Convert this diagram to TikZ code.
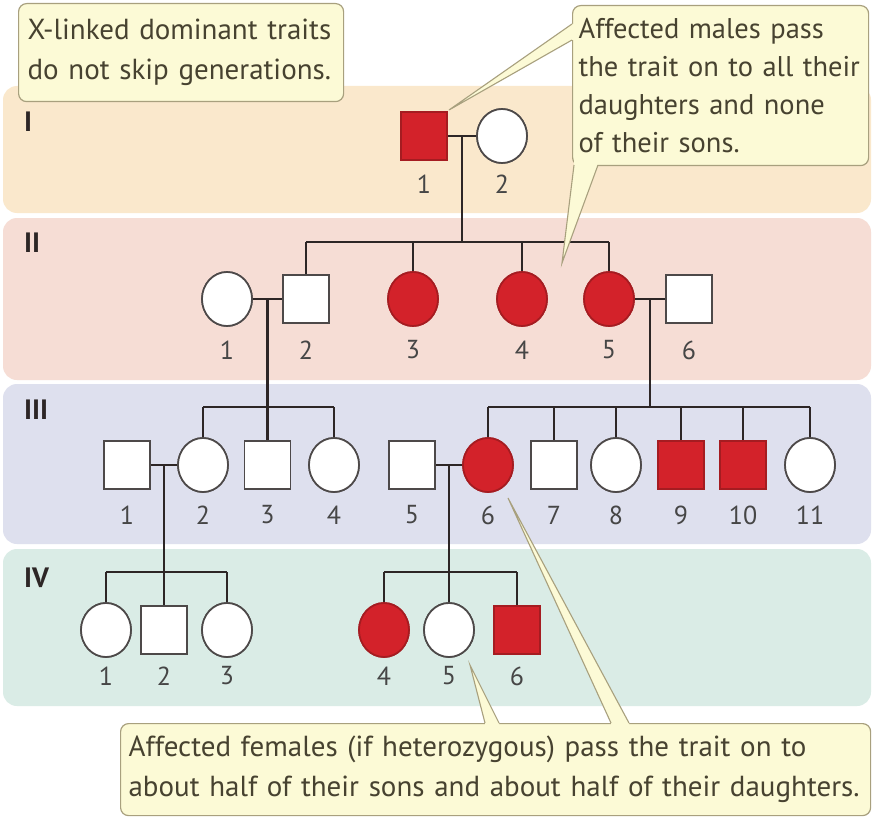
\documentclass[tikz,border=0pt]{standalone}
\usepackage{fontspec}
\setmainfont{PT Sans}
\usetikzlibrary{shapes.geometric}

\definecolor{bandI}{HTML}{FAE8CC}
\definecolor{bandII}{HTML}{F6DDD5}
\definecolor{bandIII}{HTML}{DEE0EE}
\definecolor{bandIV}{HTML}{DAECE6}
\definecolor{callfill}{HTML}{FCFAD6}
\definecolor{calledge}{HTML}{A8A07E}
\definecolor{calltext}{HTML}{474230}
\definecolor{affred}{HTML}{D3222A}
\definecolor{affedge}{HTML}{A51C21}
\definecolor{symline}{HTML}{4D4949}
\definecolor{linecol}{HTML}{2D2626}
\definecolor{numgray}{HTML}{464646}

\tikzset{
  band/.style={rounded corners=14pt},
  male/.style={rectangle, draw=symline, line width=1.7pt, fill=white,
    minimum width=46pt, minimum height=48pt, inner sep=0pt},
  female/.style={ellipse, draw=symline, line width=1.7pt, fill=white,
    minimum width=50pt, minimum height=54pt, inner sep=0pt},
  aff/.style={fill=affred, draw=affedge},
  link/.style={draw=linecol, line width=2.8pt},
  num/.style={font=\fontsize{26}{30}\selectfont, text=numgray, inner sep=0pt},
  gen/.style={font=\bfseries\fontsize{28}{30}\selectfont, text=linecol, anchor=west, inner sep=0pt},
  callout/.style={draw=calledge, line width=1.2pt, fill=callfill, rounded corners=8pt,
    text=calltext, font=\fontsize{29}{40}\selectfont, align=left, inner xsep=10pt,
    anchor=north west},
  wedgeline/.style={draw=calledge, line width=1.1pt},
}

\begin{document}
\begin{tikzpicture}[x=1pt,y=-1pt]
\useasboundingbox (0,0) rectangle (874,821);
\fill[white] (0,0) rectangle (874,821);

% generation bands
\fill[band, bandI]   (3,86)  rectangle (871,213);
\fill[band, bandII]  (3,218) rectangle (871,380);
\fill[band, bandIII] (3,384) rectangle (871,544);
\fill[band, bandIV]  (3,549) rectangle (871,706);

\node[gen] (gI)   at (24,122) {I};
\node[gen] (gII)  at (24,243) {II};
\node[gen] (gIII) at (24,410) {III};
\node[gen] (gIV)  at (24,578) {IV};

% generation I
\node[male, aff] (I1) at (424,136) {};
\node[female]    (I2) at (502,136) {};

% generation II
\node[female]      (II1) at (227,299) {};
\node[male]        (II2) at (306,299) {};
\node[female, aff] (II3) at (413,299) {};
\node[female, aff] (II4) at (522,299) {};
\node[female, aff] (II5) at (609,299) {};
\node[male]        (II6) at (689,299) {};

% generation III
\node[male]        (III1)  at (127,465) {};
\node[female]      (III2)  at (203,465) {};
\node[male]        (III3)  at (267.5,465) {};
\node[female]      (III4)  at (334,465) {};
\node[male]        (III5)  at (412,465) {};
\node[female, aff] (III6)  at (488,465) {};
\node[male]        (III7)  at (554,465) {};
\node[female]      (III8)  at (616,465) {};
\node[male, aff]   (III9)  at (681,465) {};
\node[male, aff]   (III10) at (743,465) {};
\node[female]      (III11) at (810,465) {};

% generation IV
\node[female]      (IV1) at (106,630) {};
\node[male]        (IV2) at (164,630) {};
\node[female]      (IV3) at (227,630) {};
\node[female, aff] (IV4) at (384,630) {};
\node[female]      (IV5) at (449,630) {};
\node[male, aff]   (IV6) at (517,630) {};

% mating points and sibship bars
\coordinate (mI)    at (462,136);
\coordinate (sI)    at (462,242);
\coordinate (mIIa)  at (267.5,299);
\coordinate (sIIa)  at (267.5,407);
\coordinate (mIIb)  at (650,299);
\coordinate (sIIb)  at (650,407);
\coordinate (mIIIa) at (164,465);
\coordinate (sIIIa) at (164,572);
\coordinate (mIIIb) at (449,465);
\coordinate (sIIIb) at (449,572);

% I1 x I2
\draw[link] (I1.east) -- (I2.west);
\draw[link] (mI) -- (sI);
\draw[link] (II2 |- sI) -- (II5 |- sI);
\foreach \c in {II2,II3,II4,II5} \draw[link] (\c |- sI) -- (\c.north);
% II1 x II2
\draw[link] (II1.east) -- (II2.west);
\draw[link] (mIIa) -- (III3.north);
\draw[link] (III2 |- sIIa) -- (III4 |- sIIa);
\foreach \c in {III2,III4} \draw[link] (\c |- sIIa) -- (\c.north);
% II5 x II6
\draw[link] (II5.east) -- (II6.west);
\draw[link] (mIIb) -- (sIIb);
\draw[link] (III6 |- sIIb) -- (III11 |- sIIb);
\foreach \c in {III6,III7,III8,III9,III10,III11} \draw[link] (\c |- sIIb) -- (\c.north);
% III1 x III2
\draw[link] (III1.east) -- (III2.west);
\draw[link] (mIIIa) -- (IV2.north);
\draw[link] (IV1 |- sIIIa) -- (IV3 |- sIIIa);
\foreach \c in {IV1,IV3} \draw[link] (\c |- sIIIa) -- (\c.north);
% III5 x III6
\draw[link] (III5.east) -- (III6.west);
\draw[link] (mIIIb) -- (IV5.north);
\draw[link] (IV4 |- sIIIb) -- (IV6 |- sIIIb);
\foreach \c in {IV4,IV6} \draw[link] (\c |- sIIIb) -- (\c.north);

% redraw symbols above the lines
\foreach \c in {I1,III9,III10,IV6} \node[male, aff] at (\c) {};
\foreach \c in {II3,II4,II5,III6,IV4} \node[female, aff] at (\c) {};
\foreach \c in {II2,II6,III1,III3,III5,III7,IV2} \node[male] at (\c) {};
\foreach \c in {I2,II1,III2,III4,III8,III11,IV1,IV3,IV5} \node[female] at (\c) {};

% individual numbers
\foreach \s/\t/\y in {I1/1/184, I2/2/184,
  II1/1/350, II2/2/350, II3/3/350, II4/4/350, II5/5/350, II6/6/350,
  III1/1/515, III2/2/515, III3/3/515, III4/4/515, III5/5/515, III6/6/515,
  III7/7/515, III8/8/515, III9/9/515, III10/10/515, III11/11/515,
  IV1/1/676, IV2/2/676, IV3/3/676, IV4/4/676, IV5/5/676, IV6/6/676}
  \node[num] (n\s) at (\s |- 0,\y) {\t};

% callout boxes
\node[callout, minimum width=325pt, minimum height=98pt, text width=307pt, inner xsep=9pt] (cA) at (18,3)
  {X-linked dominant traits\\do not skip generations.};
\node[callout, minimum width=296pt, minimum height=160pt, text width=284pt, inner xsep=6pt,
  font=\fontsize{28.5}{38}\selectfont] (cB) at (572,5)
  {Affected males pass\\the trait on to all their\\daughters and none\\of their sons.};
\node[callout, minimum width=750pt, minimum height=92pt, text width=734pt, inner xsep=8pt] (cC) at (120,723)
  {Affected females (if heterozygous) pass the trait on to\\about half of their sons and about half of their daughters.};

% callout pointers
\coordinate (tB1) at (449,110);
\coordinate (tB2) at (562,263);
\coordinate (tC1) at (470,665);
\coordinate (tC2) at (508,498);

\fill[callfill] (tB1) -- (572,24) -- (576,24) -- (576,40) -- (572,40) -- cycle;
\draw[wedgeline] (572,24) -- (tB1) -- (572,40);
\fill[callfill] (tB2) -- (574,165) -- (574,160) -- (598,160) -- (598,165) -- cycle;
\draw[wedgeline] (574,165) -- (tB2) -- (598,165);
\fill[callfill] (tC1) -- (485,723) -- (485,728) -- (499,728) -- (499,723) -- cycle;
\draw[wedgeline] (485,723) -- (tC1) -- (499,723);
\fill[callfill] (tC2) -- (611,723) -- (611,728) -- (629,728) -- (629,723) -- cycle;
\draw[wedgeline] (611,723) -- (tC2) -- (629,723);
\end{tikzpicture}
\end{document}
